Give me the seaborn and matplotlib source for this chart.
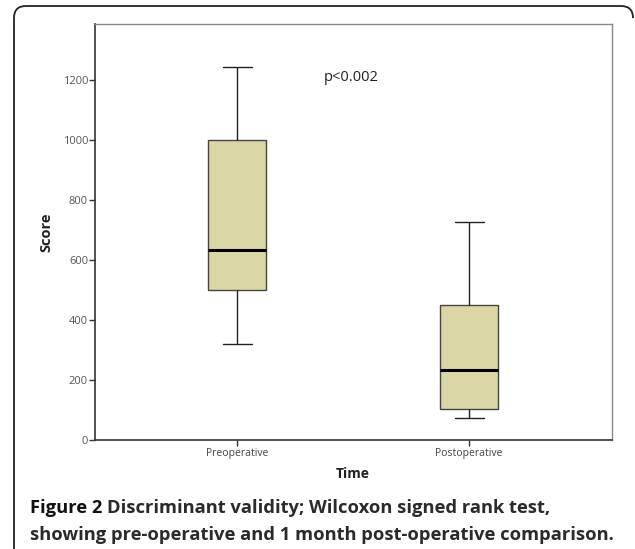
import numpy as np
import pandas as pd
import matplotlib
matplotlib.use("Agg")
import matplotlib.pyplot as plt
from matplotlib.path import Path
from matplotlib.patches import PathPatch
import seaborn as sns

# five-number summaries: min, Q1, median, Q3, max
groups = ["Preoperative", "Postoperative"]
preop_scores = [320, 500, 633, 1000, 1245]
postop_scores = [73, 103, 233, 450, 727]
y_ticks = [0, 200, 400, 600, 800, 1000, 1200]

df = pd.DataFrame({
    "Time": [groups[0]] * len(preop_scores) + [groups[1]] * len(postop_scores),
    "Score": preop_scores + postop_scores,
})

sns.set_style("white")
plt.rcParams["font.family"] = ["Open Sans", "DejaVu Sans"]

W, H = 635, 549
fig = plt.figure(figsize=(W / 100, H / 100), dpi=100)
ax = fig.add_axes([95 / W, 1 - 440 / H, 517 / W, 416 / H])

sns.boxplot(
    data=df, x="Time", y="Score", order=groups, ax=ax,
    whis=(0, 100), width=0.25, color="#dad6a6", saturation=1,
    linecolor="#444444", linewidth=1.0,
    medianprops={"color": "black", "linewidth": 2.2},
    whiskerprops={"color": "#222222", "linewidth": 1.0},
    capprops={"color": "#222222", "linewidth": 1.0},
)

ax.set_ylim(0, 1387)
ax.set_xlim(-0.612, 1.616)
ax.set_yticks(y_ticks)
ax.set_yticklabels([str(t) for t in y_ticks], color="#555555", fontsize=8)
ax.tick_params(axis="y", direction="out", length=4, width=1, color="#333333", pad=1, left=True)
ax.tick_params(axis="x", direction="out", length=4, width=1, color="#333333", pad=2,
               labelsize=7.5, labelcolor="#444444", bottom=True)

for side in ["left", "bottom"]:
    ax.spines[side].set_color("#333333")
    ax.spines[side].set_linewidth(1.2)
for side in ["top", "right"]:
    ax.spines[side].set_color("#888888")
    ax.spines[side].set_linewidth(1.0)

ax.set_ylabel("")
ax.set_xlabel("")
fig.text(46 / W, 1 - 232 / H, "Score", fontsize=10.5, fontweight="bold", color="#222222",
         rotation=90, va="center", ha="center")
fig.text(353 / W, 1 - 474 / H, "Time", fontsize=10, fontweight="bold", color="#222222",
         va="center", ha="center")

ax.text(0.375, 1207, "p<0.002", fontsize=10.5, color="#222222", va="center", ha="left")

# caption
fs = 13.2
t1 = fig.text(30 / W, 1 - 508 / H, "Figure 2", fontsize=fs, fontweight="bold",
              color="#111111", va="center", ha="left")
fig.canvas.draw()
bb = t1.get_window_extent()
fig.text((bb.x1 + 5) / W, 1 - 508 / H, "Discriminant validity; Wilcoxon signed rank test,",
         fontsize=fs, fontweight="bold", color="#2a2a2a", va="center", ha="left")
fig.text(30 / W, 1 - 535 / H,
         "showing pre-operative and 1 month post-operative comparison.",
         fontsize=fs, fontweight="bold", color="#2a2a2a", va="center", ha="left")

# rounded frame: left side, top edge and top-right corner
pts = [(14, 560), (14, 18), (14, 6), (26, 6), (621, 6), (633, 6), (633, 18)]
codes = [Path.MOVETO, Path.LINETO, Path.CURVE3, Path.CURVE3, Path.LINETO, Path.CURVE3, Path.CURVE3]
verts = [(x / W, 1 - y / H) for x, y in pts]
frame = PathPatch(Path(verts, codes), transform=fig.transFigure, facecolor="none",
                  edgecolor="#222222", linewidth=1.3)
fig.add_artist(frame)

fig.savefig("out.png", dpi=100)
